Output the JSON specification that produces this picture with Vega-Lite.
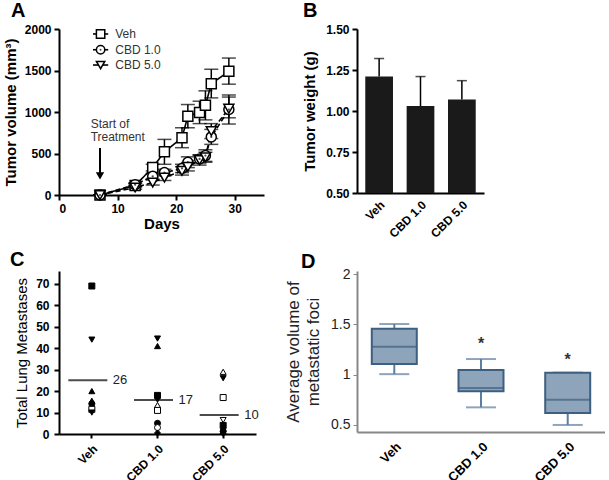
{
  "$schema": "https://vega.github.io/schema/vega-lite/v6.json",
  "padding": {"left": 3, "top": 1, "right": 0, "bottom": 0},
  "background": "white",
  "config": {
    "font": "Liberation Sans",
    "view": {"stroke": null},
    "axis": {
      "grid": false,
      "domainColor": "black",
      "domainWidth": 2,
      "tickColor": "black",
      "tickWidth": 2,
      "tickSize": 5,
      "labelFont": "Liberation Sans",
      "labelFontWeight": "bold",
      "labelFontSize": 12,
      "labelColor": "black",
      "labelPadding": 3,
      "labelOverlap": false,
      "titleFont": "Liberation Sans",
      "titleFontSize": 15,
      "titleFontWeight": "bold",
      "titleColor": "black"
    },
    "title": {"font": "Liberation Sans", "fontSize": 20, "fontWeight": "bold", "color": "black", "anchor": "start", "frame": "group"}
  },
  "datasets": {
    "growth": [
      {"group": "Veh", "day": 7, "vol": 0, "lo": 0, "hi": 0},
      {"group": "Veh", "day": 13, "vol": 115, "lo": 95, "hi": 135},
      {"group": "Veh", "day": 16, "vol": 330, "lo": 290, "hi": 370},
      {"group": "Veh", "day": 18, "vol": 520, "lo": 370, "hi": 670},
      {"group": "Veh", "day": 21, "vol": 690, "lo": 570, "hi": 810},
      {"group": "Veh", "day": 22, "vol": 950, "lo": 810, "hi": 1090},
      {"group": "Veh", "day": 24, "vol": 995, "lo": 860, "hi": 1130},
      {"group": "Veh", "day": 25, "vol": 1080, "lo": 905, "hi": 1255},
      {"group": "Veh", "day": 26, "vol": 1340, "lo": 1170, "hi": 1515},
      {"group": "Veh", "day": 29, "vol": 1490, "lo": 1335, "hi": 1650},
      {"group": "CBD 1.0", "day": 7, "vol": 0, "lo": 0, "hi": 0},
      {"group": "CBD 1.0", "day": 13, "vol": 125, "lo": 105, "hi": 145},
      {"group": "CBD 1.0", "day": 16, "vol": 225, "lo": 190, "hi": 260},
      {"group": "CBD 1.0", "day": 18, "vol": 270, "lo": 230, "hi": 310},
      {"group": "CBD 1.0", "day": 21, "vol": 320, "lo": 270, "hi": 370},
      {"group": "CBD 1.0", "day": 22, "vol": 395, "lo": 330, "hi": 460},
      {"group": "CBD 1.0", "day": 24, "vol": 435, "lo": 385, "hi": 485},
      {"group": "CBD 1.0", "day": 25, "vol": 475, "lo": 405, "hi": 545},
      {"group": "CBD 1.0", "day": 26, "vol": 700, "lo": 610, "hi": 790},
      {"group": "CBD 1.0", "day": 29, "vol": 1030, "lo": 855, "hi": 1205},
      {"group": "CBD 5.0", "day": 7, "vol": 0, "lo": 0, "hi": 0},
      {"group": "CBD 5.0", "day": 13, "vol": 90, "lo": 70, "hi": 110},
      {"group": "CBD 5.0", "day": 16, "vol": 150, "lo": 120, "hi": 180},
      {"group": "CBD 5.0", "day": 18, "vol": 210, "lo": 175, "hi": 245},
      {"group": "CBD 5.0", "day": 21, "vol": 290, "lo": 240, "hi": 340},
      {"group": "CBD 5.0", "day": 22, "vol": 340, "lo": 290, "hi": 390},
      {"group": "CBD 5.0", "day": 24, "vol": 420, "lo": 360, "hi": 480},
      {"group": "CBD 5.0", "day": 25, "vol": 455, "lo": 395, "hi": 515},
      {"group": "CBD 5.0", "day": 26, "vol": 770, "lo": 680, "hi": 860},
      {"group": "CBD 5.0", "day": 29, "vol": 1040, "lo": 930, "hi": 1180}
    ],
    "legendA": [
      {"group": "Veh", "x1": 5.8, "x2": 8.4, "xc": 7.1, "y": 1940, "tx": 9.6, "shape": "square", "dot": false},
      {"group": "CBD 1.0", "x1": 5.8, "x2": 8.4, "xc": 7.1, "y": 1750, "tx": 9.6, "shape": "circle", "dot": true},
      {"group": "CBD 5.0", "x1": 5.8, "x2": 8.4, "xc": 7.1, "y": 1566, "tx": 9.6, "shape": "triangle-down", "dot": false}
    ],
    "arrow": [{"day": 7, "top": 565, "tip": 230, "label": "Start of\nTreatment", "textDay": 5.4, "textY": 855}],
    "weight": [
      {"group": "Veh", "w": 1.21, "hi": 1.32, "base": 0.5},
      {"group": "CBD 1.0", "w": 1.03, "hi": 1.21, "base": 0.5},
      {"group": "CBD 5.0", "w": 1.07, "hi": 1.185, "base": 0.5}
    ],
    "mets": [
      {"group": "Veh", "n": 69, "shape": "square", "fill": "black"},
      {"group": "Veh", "n": 44, "shape": "triangle-down", "fill": "black"},
      {"group": "Veh", "n": 20, "shape": "triangle-up", "fill": "black"},
      {"group": "Veh", "n": 15.5, "shape": "triangle-up", "fill": "black"},
      {"group": "Veh", "n": 14, "shape": "circle", "fill": "black"},
      {"group": "Veh", "n": 11.5, "shape": "square", "fill": "white"},
      {"group": "Veh", "n": 10, "shape": "triangle-down", "fill": "black"},
      {"group": "CBD 1.0", "n": 44.5, "shape": "triangle-down", "fill": "black"},
      {"group": "CBD 1.0", "n": 41, "shape": "triangle-up", "fill": "black"},
      {"group": "CBD 1.0", "n": 18, "shape": "square", "fill": "black"},
      {"group": "CBD 1.0", "n": 16, "shape": "triangle-down", "fill": "black"},
      {"group": "CBD 1.0", "n": 13.5, "shape": "triangle-up", "fill": "white"},
      {"group": "CBD 1.0", "n": 11, "shape": "square", "fill": "white"},
      {"group": "CBD 1.0", "n": 5, "shape": "circle", "fill": "black"},
      {"group": "CBD 1.0", "n": 3, "shape": "circle", "fill": "white"},
      {"group": "CBD 1.0", "n": 0.5, "shape": "diamond", "fill": "black"},
      {"group": "CBD 5.0", "n": 29, "shape": "triangle-up", "fill": "white"},
      {"group": "CBD 5.0", "n": 26, "shape": "triangle-down", "fill": "black"},
      {"group": "CBD 5.0", "n": 17, "shape": "square", "fill": "white"},
      {"group": "CBD 5.0", "n": 6.5, "shape": "triangle-down", "fill": "white"},
      {"group": "CBD 5.0", "n": 4, "shape": "square", "fill": "black"},
      {"group": "CBD 5.0", "n": 2.5, "shape": "triangle-up", "fill": "black"},
      {"group": "CBD 5.0", "n": 1.3, "shape": "circle", "fill": "black"},
      {"group": "CBD 5.0", "n": 0.3, "shape": "diamond", "fill": "black"}
    ],
    "means": [
      {"group": "Veh", "n": 25.1, "label": "26"},
      {"group": "CBD 1.0", "n": 15.9, "label": "17"},
      {"group": "CBD 5.0", "n": 8.9, "label": "10"}
    ],
    "foci": [
      {"group": "Veh", "min": 1.005, "q1": 1.105, "median": 1.278, "q3": 1.455, "max": 1.503},
      {"group": "CBD 1.0", "min": 0.675, "q1": 0.834, "median": 0.867, "q3": 1.046, "max": 1.155, "star": 1.3},
      {"group": "CBD 5.0", "min": 0.5, "q1": 0.62, "median": 0.75, "q3": 1.02, "max": 1.02, "star": 1.15}
    ]
  },
  "columns": 2,
  "bounds": "flush",
  "align": "each",
  "spacing": {"row": 76, "column": 93},
  "concat": [
    {
      "width": 205,
      "height": 166,
      "title": {"text": "A", "dx": -48, "offset": 2},
      "layer": [
        {
          "data": {"name": "growth"},
          "mark": {"type": "rule", "color": "black", "strokeWidth": 1.5},
          "encoding": {
            "x": {"field": "day", "type": "quantitative"},
            "y": {"field": "lo", "type": "quantitative"},
            "y2": {"field": "hi"}
          }
        },
        {
          "data": {"name": "growth"},
          "mark": {"type": "tick", "orient": "horizontal", "size": 14, "thickness": 1.5, "color": "black"},
          "encoding": {
            "x": {"field": "day", "type": "quantitative"},
            "y": {"field": "lo", "type": "quantitative"}
          }
        },
        {
          "data": {"name": "growth"},
          "mark": {"type": "tick", "orient": "horizontal", "size": 14, "thickness": 1.5, "color": "black"},
          "encoding": {
            "x": {"field": "day", "type": "quantitative"},
            "y": {"field": "hi", "type": "quantitative"}
          }
        },
        {
          "data": {"name": "growth"},
          "mark": {"type": "line", "color": "black", "strokeWidth": 1.6},
          "encoding": {
            "x": {"field": "day", "type": "quantitative"},
            "y": {"field": "vol", "type": "quantitative"},
            "detail": {"field": "group", "type": "nominal"},
            "strokeDash": {"field": "group", "type": "nominal", "scale": {"domain": ["Veh", "CBD 1.0", "CBD 5.0"], "range": [[1, 0], [5, 3], [5, 3]]}, "legend": null}
          }
        },
        {
          "data": {"name": "growth"},
          "mark": {"type": "point", "filled": true, "fill": "white", "stroke": "black", "strokeWidth": 1.5, "size": 100, "opacity": 1},
          "encoding": {
            "x": {"field": "day", "type": "quantitative"},
            "y": {"field": "vol", "type": "quantitative"},
            "shape": {"field": "group", "type": "nominal", "scale": {"domain": ["Veh", "CBD 1.0", "CBD 5.0"], "range": ["square", "circle", "triangle-down"]}, "legend": null}
          }
        },
        {
          "data": {"name": "growth"},
          "transform": [{"filter": "datum.group === 'CBD 1.0'"}],
          "mark": {"type": "point", "filled": true, "color": "black", "size": 5},
          "encoding": {
            "x": {"field": "day", "type": "quantitative"},
            "y": {"field": "vol", "type": "quantitative"}
          }
        },
        {
          "data": {"name": "legendA"},
          "mark": {"type": "rule", "color": "black", "strokeWidth": 1.6},
          "encoding": {
            "x": {"field": "x1", "type": "quantitative"},
            "x2": {"field": "x2"},
            "y": {"field": "y", "type": "quantitative"}
          }
        },
        {
          "data": {"name": "legendA"},
          "mark": {"type": "point", "filled": true, "fill": "white", "stroke": "black", "strokeWidth": 1.5, "size": 70, "opacity": 1},
          "encoding": {
            "x": {"field": "xc", "type": "quantitative"},
            "y": {"field": "y", "type": "quantitative"},
            "shape": {"field": "shape", "type": "nominal", "scale": null}
          }
        },
        {
          "data": {"name": "legendA"},
          "transform": [{"filter": "datum.dot"}],
          "mark": {"type": "point", "filled": true, "color": "black", "size": 4},
          "encoding": {
            "x": {"field": "xc", "type": "quantitative"},
            "y": {"field": "y", "type": "quantitative"}
          }
        },
        {
          "data": {"name": "legendA"},
          "mark": {"type": "text", "align": "left", "baseline": "middle", "fontSize": 12, "color": "#333"},
          "encoding": {
            "x": {"field": "tx", "type": "quantitative"},
            "y": {"field": "y", "type": "quantitative"},
            "text": {"field": "group", "type": "nominal"}
          }
        },
        {
          "data": {"name": "arrow"},
          "mark": {"type": "rule", "color": "black", "strokeWidth": 2},
          "encoding": {
            "x": {"field": "day", "type": "quantitative"},
            "y": {"field": "top", "type": "quantitative"},
            "y2": {"field": "tip"}
          }
        },
        {
          "data": {"name": "arrow"},
          "mark": {"type": "point", "shape": "triangle-down", "filled": true, "color": "black", "size": 70, "opacity": 1},
          "encoding": {
            "x": {"field": "day", "type": "quantitative"},
            "y": {"field": "tip", "type": "quantitative"}
          }
        },
        {
          "data": {"name": "arrow"},
          "mark": {"type": "text", "align": "left", "baseline": "middle", "lineBreak": "\n", "lineHeight": 13, "fontSize": 12, "color": "#333"},
          "encoding": {
            "x": {"field": "textDay", "type": "quantitative"},
            "y": {"field": "textY", "type": "quantitative"},
            "text": {"field": "label", "type": "nominal"}
          }
        }
      ],
      "encoding": {
        "x": {"field": "day", "type": "quantitative", "scale": {"domain": [0, 35], "nice": false},
              "axis": {"values": [0, 10, 20, 30], "title": "Days", "titlePadding": 2}},
        "y": {"field": "vol", "type": "quantitative", "scale": {"domain": [0, 2000], "nice": false},
              "axis": {"values": [0, 500, 1000, 1500, 2000], "format": "d", "title": "Tumor volume (mm³)", "titlePadding": 6}}
      },
      "resolve": {"scale": {"strokeDash": "independent", "shape": "independent"}}
    },
    {
      "width": 127,
      "height": 164,
      "title": {"text": "B", "dx": -54, "offset": 2},
      "data": {"name": "weight"},
      "encoding": {
        "x": {"field": "group", "type": "nominal", "sort": ["Veh", "CBD 1.0", "CBD 5.0"],
              "scale": {"paddingInner": 0.33, "paddingOuter": 0.2},
              "axis": {"title": null, "labelAngle": -45, "ticks": false, "labelPadding": 6}}
      },
      "layer": [
        {
          "mark": {"type": "bar", "color": "#1a1a1a"},
          "encoding": {
            "y": {"field": "w", "type": "quantitative", "scale": {"domain": [0.5, 1.5], "nice": false, "zero": false},
                  "axis": {"values": [0.5, 0.75, 1, 1.25, 1.5], "format": ".2f", "title": "Tumor weight (g)", "titlePadding": 8}},
            "y2": {"field": "base"}
          }
        },
        {
          "mark": {"type": "rule", "color": "black", "strokeWidth": 1.5},
          "encoding": {
            "y": {"field": "w", "type": "quantitative"},
            "y2": {"field": "hi"}
          }
        },
        {
          "mark": {"type": "tick", "orient": "horizontal", "size": 10, "thickness": 1.5, "color": "black"},
          "encoding": {
            "y": {"field": "hi", "type": "quantitative"}
          }
        }
      ]
    },
    {
      "width": 197,
      "height": 163,
      "title": {"text": "C", "dx": -49, "offset": 1},
      "encoding": {
        "x": {"field": "group", "type": "nominal", "sort": ["Veh", "CBD 1.0", "CBD 5.0"],
              "scale": {"paddingInner": 0, "paddingOuter": 0},
              "axis": {"title": null, "labelAngle": -45, "tickSize": 4, "labelPadding": 5}},
        "y": {"field": "n", "type": "quantitative", "scale": {"domain": [0, 76], "nice": false},
              "axis": {"values": [0, 10, 20, 30, 40, 50, 60, 70], "title": "Total Lung Metastases", "titleFontWeight": "normal", "titleFontSize": 15, "labelPadding": 5, "titlePadding": 6}}
      },
      "layer": [
        {
          "data": {"name": "mets"},
          "mark": {"type": "point", "filled": true, "stroke": "black", "strokeWidth": 1, "size": 36, "opacity": 1},
          "encoding": {
            "shape": {"field": "shape", "type": "nominal", "scale": null},
            "fill": {"field": "fill", "type": "nominal", "scale": null}
          }
        },
        {
          "data": {"name": "means"},
          "mark": {"type": "tick", "orient": "horizontal", "size": 39, "thickness": 2, "color": "black", "xOffset": -4}
        },
        {
          "data": {"name": "means"},
          "mark": {"type": "text", "align": "left", "baseline": "middle", "dx": 21, "fontSize": 13, "color": "#222"},
          "encoding": {
            "text": {"field": "label", "type": "nominal"}
          }
        }
      ]
    },
    {
      "width": 248,
      "height": 161,
      "title": {"text": "D", "dx": -56, "offset": -5},
      "data": {"name": "foci"},
      "encoding": {
        "x": {"field": "group", "type": "nominal", "sort": ["Veh", "CBD 1.0", "CBD 5.0"],
              "scale": {"type": "point", "padding": 0.43},
              "axis": {"title": null, "labelAngle": -45, "ticks": false, "domainColor": "#888", "labelPadding": 8, "labelFontSize": 13}}
      },
      "layer": [
        {
          "mark": {"type": "rule", "color": "#5d7f9f", "strokeWidth": 2},
          "encoding": {
            "y": {"field": "min", "type": "quantitative", "scale": {"domain": [0.43, 2.03], "nice": false, "zero": false},
                  "axis": {"values": [0.5, 1, 1.5, 2], "format": "~g", "title": ["Average volume of", "metastatic foci"], "titleFontWeight": "normal", "titleFontSize": 17, "titleColor": "#222", "titleLineHeight": 20, "titlePadding": 8,
                           "domainColor": "#888", "tickColor": "#888", "tickWidth": 1, "tickSize": 4, "labelFontWeight": "normal", "labelFontSize": 14, "labelColor": "#222", "labelPadding": 3}},
            "y2": {"field": "q1"}
          }
        },
        {
          "mark": {"type": "rule", "color": "#5d7f9f", "strokeWidth": 2},
          "encoding": {
            "y": {"field": "q3", "type": "quantitative"},
            "y2": {"field": "max"}
          }
        },
        {
          "mark": {"type": "tick", "orient": "horizontal", "size": 30, "thickness": 2, "color": "#5d7f9f"},
          "encoding": {"y": {"field": "min", "type": "quantitative"}}
        },
        {
          "mark": {"type": "tick", "orient": "horizontal", "size": 30, "thickness": 2, "color": "#5d7f9f"},
          "encoding": {"y": {"field": "max", "type": "quantitative"}}
        },
        {
          "mark": {"type": "bar", "size": 45, "fill": "#8ea4ba", "stroke": "#3d5f80", "strokeWidth": 2},
          "encoding": {
            "y": {"field": "q1", "type": "quantitative"},
            "y2": {"field": "q3"}
          }
        },
        {
          "mark": {"type": "tick", "orient": "horizontal", "size": 45, "thickness": 2, "color": "#3d5f80"},
          "encoding": {"y": {"field": "median", "type": "quantitative"}}
        },
        {
          "mark": {"type": "text", "text": "*", "fontSize": 16, "fontWeight": "bold", "color": "#333", "baseline": "middle"},
          "encoding": {"y": {"field": "star", "type": "quantitative"}}
        }
      ]
    }
  ]
}
